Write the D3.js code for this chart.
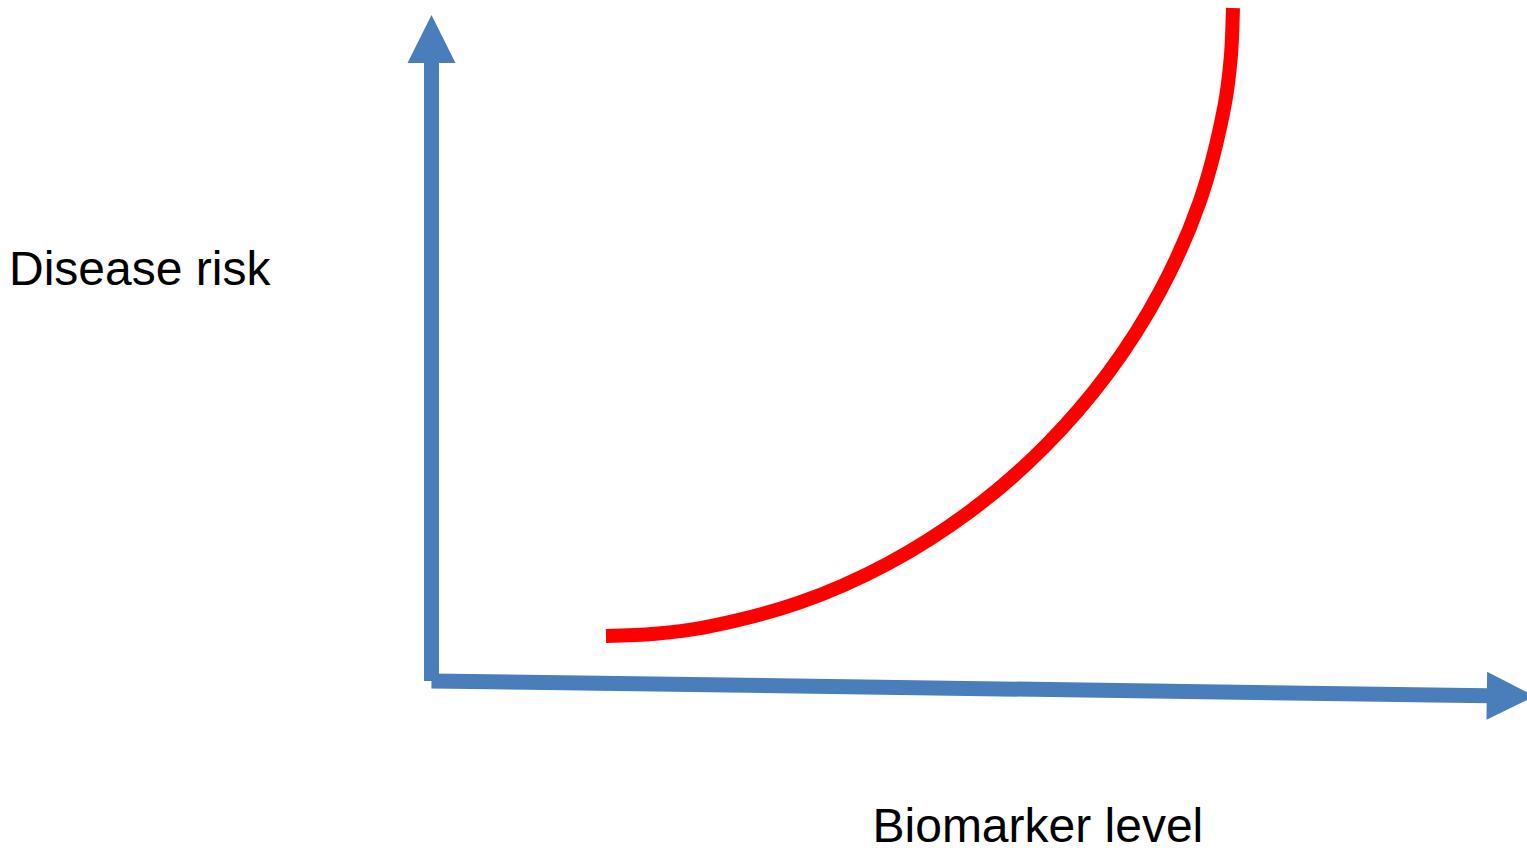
<!DOCTYPE html>
<html>
<head>
<meta charset="utf-8">
<script src="https://cdn.jsdelivr.net/npm/d3@7"></script>
<style>
  html, body { margin: 0; padding: 0; background: #ffffff; }
  svg { display: block; }
  text { font-family: "Liberation Sans", Arial, sans-serif; fill: #000; }
</style>
</head>
<body>
<svg id="chart" width="1527" height="848"></svg>
<script>
// ---- data (abstract units: biomarker level 0..100, disease risk 0..100) ----
const curveX = [15.86, 20.37, 24.82, 33.42, 41.53, 49.01, 55.72, 61.52, 66.27, 69.85, 72.08, 72.66, 72.86];
const curveY = [6.76, 7.09, 8.05, 11.76, 17.67, 25.54, 35.15, 46.26, 58.63, 72.04, 86.26, 93.60, 101.05];
const yAxisEnds = [[0, 0], [0, 100]];           // vertical arrow: origin -> tip
const xAxisEnds = [[0, 0], [100.3, -2.3]];      // horizontal arrow: origin -> tip
const yLabel = "Disease risk";
const xLabel = "Biomarker level";

const width = 1527, height = 848;
const svg = d3.select("#chart");

const x = d3.scaleLinear().domain([0, 100]).range([431.5, 1531.5]);
const y = d3.scaleLinear().domain([0, 100]).range([681, 15]);

const blue = "#4a7ebb";
const headLen = 48, headW = 48, shaftW = 15;

function arrow(ends) {
  const x0 = x(ends[0][0]), y0 = y(ends[0][1]);
  const x1 = x(ends[1][0]), y1 = y(ends[1][1]);
  const dx = x1 - x0, dy = y1 - y0, L = Math.hypot(dx, dy);
  const ux = dx / L, uy = dy / L, px = -uy, py = ux;
  const bx = x1 - ux * headLen, by = y1 - uy * headLen;
  svg.append("line")
    .attr("x1", x0).attr("y1", y0)
    .attr("x2", bx + ux * 1).attr("y2", by + uy * 1)
    .attr("stroke", blue).attr("stroke-width", shaftW);
  svg.append("path")
    .attr("d", d3.line()([
      [bx + px * headW / 2, by + py * headW / 2],
      [x1, y1],
      [bx - px * headW / 2, by - py * headW / 2]
    ]) + "Z")
    .attr("fill", blue);
}

arrow(yAxisEnds);
arrow(xAxisEnds);

// red risk curve
const pts = curveX.map((v, i) => [x(v), y(curveY[i])]);
svg.append("path")
  .attr("d", d3.line().curve(d3.curveCatmullRom.alpha(0.5))(pts))
  .attr("fill", "none")
  .attr("stroke", "#ff0000")
  .attr("stroke-width", 14)
  .attr("stroke-linecap", "butt");

// labels
svg.append("text").attr("x", 9).attr("y", 285)
  .attr("font-size", 48).text(yLabel);
svg.append("text").attr("x", 872.5).attr("y", 842)
  .attr("font-size", 48).text(xLabel);
</script>
</body>
</html>
